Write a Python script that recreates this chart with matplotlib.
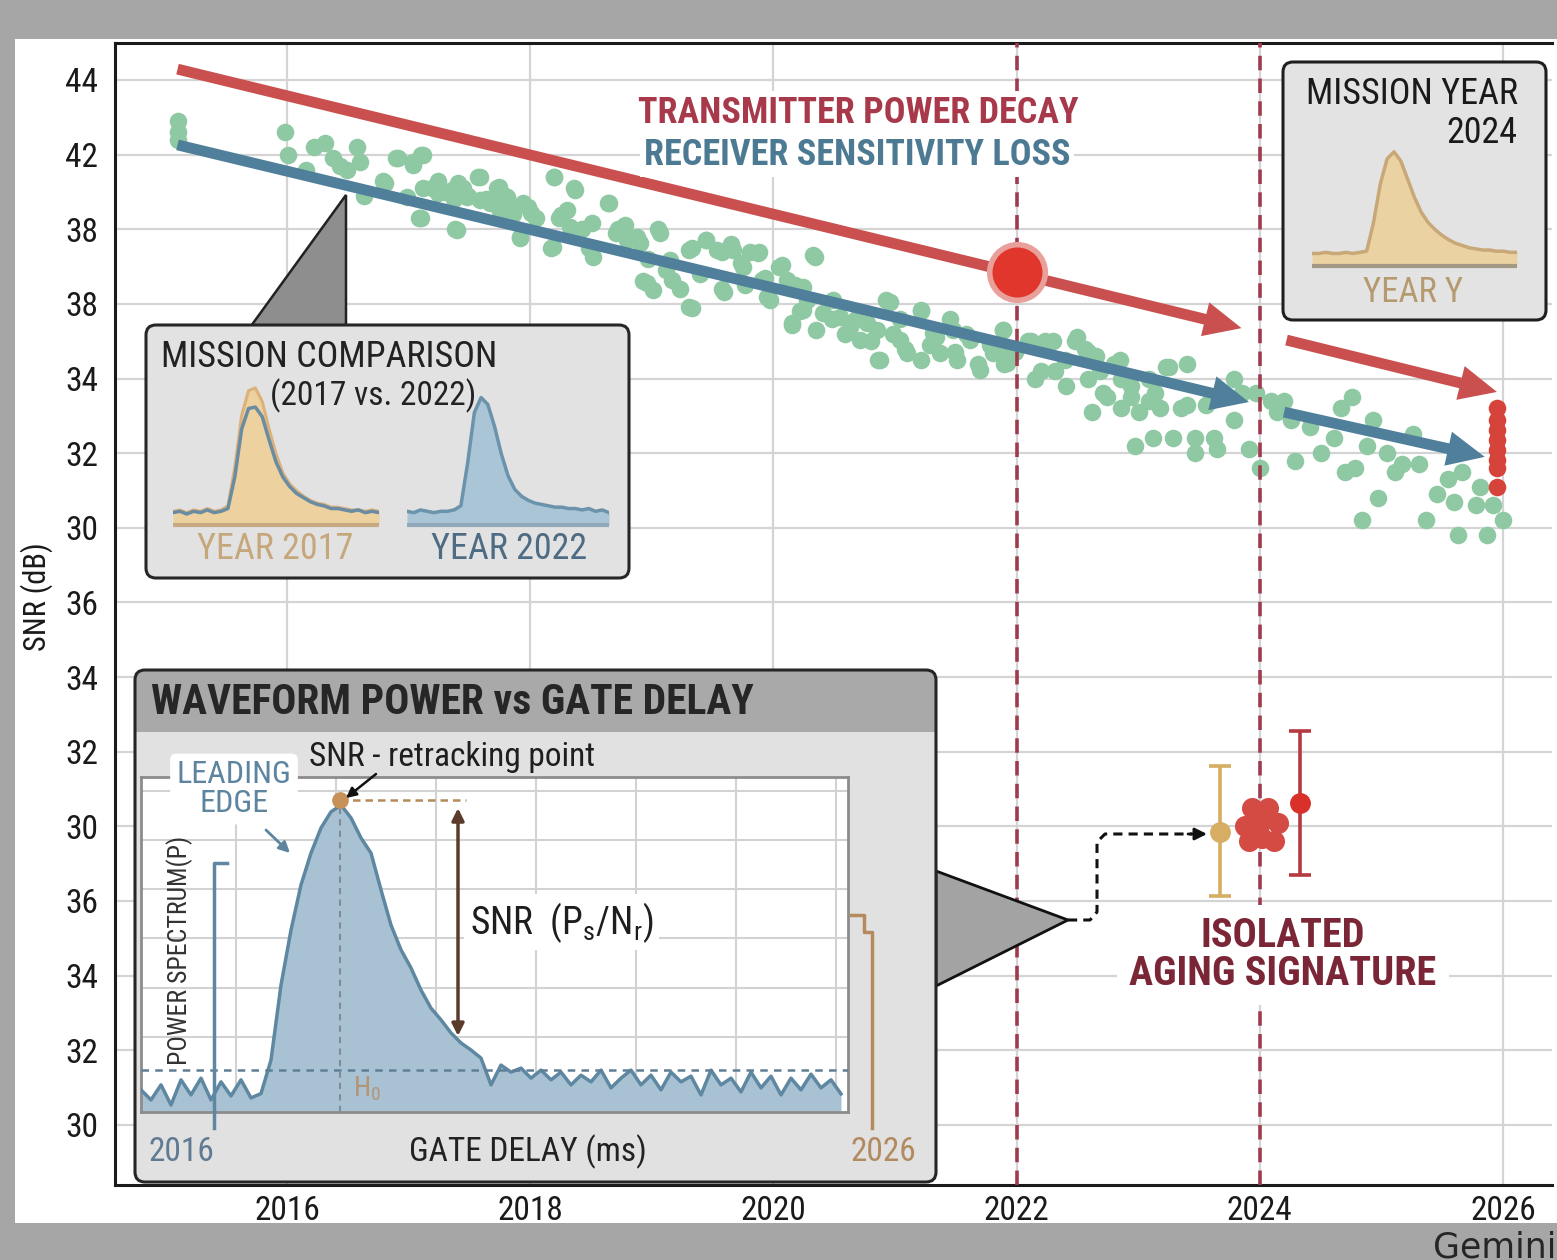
import matplotlib
matplotlib.use('Agg')
import matplotlib.pyplot as plt
from matplotlib import font_manager as fm
from matplotlib.patches import FancyBboxPatch, Polygon, Rectangle, FancyArrowPatch, ArrowStyle

W, H = 1557, 1260

# condensed font if one is installed, Roboto otherwise
installed = {f.name for f in fm.fontManager.ttflist}
COND = next((n for n in ['Roboto Condensed', 'Liberation Sans Narrow', 'Arial Narrow'] if n in installed), 'Roboto')
plt.rcParams['font.family'] = [COND, 'DejaVu Sans']
plt.rcParams['mathtext.fontset'] = 'custom'
plt.rcParams['mathtext.rm'] = COND

# ---------------- data ----------------
year_ticks = [2016, 2018, 2020, 2022, 2024, 2026]
snr_ticks = [44, 42, 40, 38, 36, 34, 32, 30, 28, 26, 24, 22, 20, 18, 16]
snr_labels = ['44', '42', '38', '38', '34', '32', '30', '36', '34', '32', '30', '36', '34', '32', '30']

scatter_year = [
    2015.10, 2015.10, 2015.10, 2015.98, 2016.01, 2016.16, 2016.22, 2016.31, 2016.38, 2016.44,
    2016.49, 2016.58, 2016.60, 2016.63, 2016.79, 2016.91, 2017.04, 2017.10, 2017.10, 2017.19,
    2017.29, 2017.38, 2017.45, 2017.57, 2017.64, 2017.73, 2017.79, 2017.86, 2017.92, 2017.98,
    2018.05, 2018.17, 2018.20, 2018.24, 2018.36, 2018.43, 2018.48, 2017.24, 2017.49, 2017.75,
    2017.37, 2017.12,
    2018.65, 2018.72, 2018.88, 2019.05, 2018.93, 2019.12, 2019.33, 2019.45, 2019.58, 2019.65,
    2019.73, 2019.81, 2019.88, 2019.93, 2020.05, 2019.33, 2019.58, 2020.18, 2020.33, 2020.28,
    2020.15, 2020.48, 2020.68, 2020.86, 2020.93, 2020.98, 2021.08, 2021.21, 2021.34, 2021.49,
    2021.58, 2021.68, 2021.89, 2021.99, 2022.09, 2022.20, 2022.30, 2022.40, 2022.50, 2022.59,
    2022.69, 2022.85, 2022.94, 2023.09, 2023.25, 2023.40, 2022.74, 2023.09, 2023.40, 2023.59,
    2023.85, 2024.09,
    2018.78, 2018.97, 2019.23, 2019.40, 2019.77, 2019.97, 2020.22, 2020.35, 2020.59, 2020.80,
    2021.04, 2021.29, 2021.45, 2021.78,
    2021.90, 2021.90, 2022.12, 2022.23, 2022.15, 2022.32, 2022.41, 2022.48, 2022.56, 2022.59,
    2022.62, 2022.65, 2022.71, 2022.80, 2022.86, 2022.86, 2022.94, 2022.97, 2023.01, 2023.12,
    2023.14, 2023.18, 2023.23, 2023.29, 2023.35, 2023.47, 2023.47, 2023.56, 2023.62, 2023.65,
    2023.79, 2023.79, 2023.91, 2023.97, 2024.00, 2024.14, 2024.20, 2024.26, 2024.29, 2024.41,
    2024.50, 2024.61, 2024.67, 2024.76, 2024.70, 2024.78, 2024.84, 2024.88, 2024.93, 2024.97,
    2025.05, 2025.11, 2025.17, 2025.26, 2025.31, 2025.37, 2025.46, 2025.55, 2025.60, 2025.63,
    2025.66, 2025.78, 2025.81, 2025.87, 2025.92, 2026.00,
    2016.90, 2017.04, 2017.12, 2016.81, 2016.99, 2017.09, 2017.22, 2017.24, 2017.36, 2017.41,
    2017.40, 2017.48, 2017.59, 2017.59, 2017.67, 2017.74, 2017.81, 2017.86, 2017.94, 2018.01,
    2017.92, 2018.20, 2018.25, 2018.30, 2018.37, 2018.33, 2018.51, 2018.52, 2018.19, 2018.64,
    2018.71, 2018.80, 2018.90, 2019.07, 2018.96, 2019.01, 2019.15, 2019.17, 2019.31, 2019.31,
    2019.45, 2019.54, 2019.67, 2019.75, 2019.87, 2019.59, 2019.91, 2019.95, 2020.07, 2020.11,
    2020.24, 2020.24, 2020.15, 2020.34, 2020.41, 2020.49, 2020.55, 2020.63, 2020.71, 2020.77,
    2020.85, 2020.88, 2020.96, 2021.04, 2021.10, 2021.21, 2021.21, 2021.31, 2021.37, 2021.48,
    2021.51, 2021.62, 2021.70, 2021.81, 2021.89, 2021.92]
scatter_snr = [
    42.9, 42.6, 42.4, 42.6, 42.0, 41.6, 42.2, 42.3, 41.9, 41.7,
    41.6, 42.2, 41.8, 40.9, 41.3, 41.9, 41.8, 42.0, 40.3, 41.1,
    41.0, 40.0, 41.1, 41.4, 40.8, 41.1, 40.9, 40.4, 39.8, 40.6,
    40.3, 39.5, 41.4, 40.3, 41.1, 40.0, 39.5, 41.3, 40.9, 40.5,
    40.8, 41.1,
    40.7, 40.0, 39.8, 40.0, 38.6, 38.9, 39.5, 39.7, 39.4, 39.6,
    39.1, 39.4, 39.4, 38.7, 39.0, 37.9, 38.4, 38.5, 39.3, 38.1,
    37.5, 37.6, 37.6, 36.5, 38.1, 37.2, 36.8, 37.8, 37.1, 36.7,
    37.2, 36.4, 37.3, 36.7, 37.0, 36.2, 37.0, 36.5, 37.1, 36.7,
    36.2, 36.5, 35.8, 36.0, 36.3, 36.4, 35.5, 35.4, 35.3, 35.4,
    35.6, 35.4,
    40.1, 39.2, 38.4, 38.8, 38.5, 38.1, 37.8, 37.3, 37.2, 37.0,
    37.6, 36.9, 37.6, 36.9,
    36.8, 36.4, 37.0, 37.0, 36.0, 36.2, 35.8, 37.0, 36.8, 36.0,
    35.1, 36.6, 35.6, 36.4, 36.0, 35.2, 35.5, 34.2, 35.1, 34.4,
    35.6, 35.2, 36.3, 34.4, 35.2, 34.4, 34.0, 35.3, 34.4, 34.1,
    36.0, 34.9, 34.1, 35.6, 33.6, 35.1, 35.4, 34.9, 33.8, 34.7,
    34.0, 34.4, 35.2, 35.5, 33.5, 33.6, 32.2, 34.2, 34.9, 32.8,
    34.0, 33.5, 33.7, 34.5, 33.7, 32.2, 32.9, 33.3, 32.7, 31.8,
    33.5, 32.6, 33.1, 31.8, 32.6, 32.2,
    41.91, 41.72, 41.99, 41.24, 40.86, 40.30, 41.13, 40.97, 41.05, 41.24,
    39.98, 40.86, 41.40, 40.78, 40.70, 41.13, 40.86, 40.52, 40.70, 40.44,
    39.77, 41.40, 40.38, 40.52, 41.05, 40.06, 40.17, 39.26, 39.53, 40.70,
    39.90, 39.71, 39.63, 39.90, 38.56, 38.37, 39.18, 38.64, 39.44, 37.92,
    39.71, 39.44, 39.44, 38.99, 39.36, 38.32, 38.64, 38.19, 39.04, 38.64,
    38.45, 37.84, 37.44, 39.26, 37.76, 38.11, 37.65, 37.38, 37.03, 37.49,
    37.30, 36.50, 38.05, 37.03, 36.68, 37.84, 36.50, 37.22, 36.68, 37.30,
    36.50, 37.03, 36.23, 36.68, 37.30, 36.42]

# trend arrows (start, end)
tx_years, tx_snr = [2015.10, 2023.85], [44.29, 37.35]
tx_years_2, tx_snr_2 = [2024.22, 2025.95], [37.03, 35.64]
rx_years, rx_snr = [2015.10, 2023.91], [42.26, 35.37]
rx_years_2, rx_snr_2 = [2024.20, 2025.85], [35.10, 33.90]

mission_marks = [2022, 2024]
highlight_year, highlight_snr = 2022, 38.86

end_cluster_year = [2025.95] * 8
end_cluster_snr = [35.21, 34.89, 34.62, 34.35, 34.09, 33.82, 33.60, 33.09]

# isolated aging signature
tan_year, tan_snr, tan_low, tan_high = 2023.67, 23.85, 22.14, 25.62
red_year, red_snr, red_low, red_high = 2024.33, 24.63, 22.70, 26.56
blob_year = [2023.88, 2023.94, 2024.07, 2024.15, 2024.02, 2023.91, 2024.12, 2024.00]
blob_snr = [24.0, 24.5, 24.5, 24.1, 23.7, 23.6, 23.6, 24.1]

# mini waveforms
mini_x = list(range(31))
mini_2017_tx = [10, 11, 9, 11, 10, 12, 10, 11, 14, 42, 80, 98, 100, 90, 70, 52, 38, 30, 25, 21,
                18, 16, 15, 13, 13, 12, 11, 11, 10, 11, 10]
mini_2017_rx = [9, 10, 8, 10, 9, 11, 9, 10, 12, 35, 70, 85, 86, 79, 62, 46, 35, 28, 23, 20,
                17, 15, 14, 12, 12, 11, 10, 11, 9, 10, 9]
mini_2022 = [10, 9, 11, 10, 9, 10, 10, 11, 14, 45, 82, 93, 88, 72, 52, 36, 26, 21, 18, 16,
             15, 14, 13, 13, 12, 12, 11, 12, 10, 11, 9]
mini_2024 = [11, 11, 12, 11, 11, 12, 11, 12, 13, 38, 72, 94, 100, 92, 76, 60, 47, 38, 32, 27,
             23, 20, 18, 16, 15, 14, 14, 13, 13, 12, 12]

# waveform power vs gate delay
gate_bins = list(range(71))
wave_power = [6.6, 3.6, 8.1, 2.1, 9.6, 5.1, 10.1, 3.6, 9.0, 4.8,
              9.6, 4.2, 5.5, 15.5, 37.9, 54.3, 67.8, 77.3, 84.8, 89.6,
              91.6, 87.8, 81.8, 77.3, 66.3, 55.8, 48.4, 43.0, 36.4, 31.0,
              27.5, 23.6, 20.6, 18.5, 16.1, 8.1, 14.0, 11.9, 13.1, 10.1,
              12.5, 9.6, 11.9, 8.1, 11.0, 9.0, 12.5, 7.2, 10.1, 12.5,
              8.1, 11.0, 6.6, 11.9, 9.0, 10.7, 5.1, 12.5, 8.1, 10.1,
              6.0, 11.9, 7.2, 10.7, 5.1, 10.1, 6.6, 11.3, 7.2, 9.6,
              5.4]
peak_gate, peak_power = 19.9, 93.1
noise_level = 12.5
snr_arrow_gate, snr_arrow_top, snr_arrow_bottom = 31.7, 90.7, 22.7

# colours
RED = '#c9504e'
BLUE = '#4f7f9b'
GREEN = '#8fc9a3'
MAROON = '#9e3b4d'
TAN = '#c6a77c'
BOX = '#e2e2e2'


def px_rect(x0, y0, x1, y1):
    return [x0 / W, 1 - y1 / H, (x1 - x0) / W, (y1 - y0) / H]


fig = plt.figure(figsize=(W / 100, H / 100), dpi=100, facecolor='#a6a6a6')
fig.add_artist(Rectangle((15 / W, 1 - 1223 / H), 1 - 15 / W, (1223 - 39) / H,
                         transform=fig.transFigure, fc='white', ec='none', zorder=0))

# ================= main axes =================
ax = fig.add_axes(px_rect(115, 43, 1552, 1185), zorder=1)
ax.set_xlim(2014.586, 2026.403)
ax.set_ylim(14.39, 44.99)
ax.set_xticks(year_ticks)
ax.set_xticklabels([str(y) for y in year_ticks])
ax.set_yticks(snr_ticks)
ax.set_yticklabels(snr_labels)
ax.tick_params(axis='both', length=0, labelsize=24, colors='#1a1a1a')
ax.tick_params(axis='x', pad=7)
ax.tick_params(axis='y', pad=12)
ax.grid(True, color='#d4d4d4', lw=1.6)
ax.set_axisbelow(True)
for side in ['left', 'bottom', 'top']:
    ax.spines[side].set_linewidth(2.2)
    ax.spines[side].set_color('#1a1a1a')
ax.spines['right'].set_visible(False)
ax.set_ylabel('SNR (dB)', fontsize=22, color='#1a1a1a')
ax.yaxis.set_label_coords(-0.043, 0.515)

ax.scatter(scatter_year, scatter_snr, s=160, color=GREEN, lw=0, zorder=3)

for yr in mission_marks:
    ax.axvline(yr, color=MAROON, lw=2.6, ls=(0, (4, 2.3)), zorder=4)


def trend_arrow(xs, ys, color):
    arr = FancyArrowPatch((xs[0], ys[0]), (xs[1], ys[1]),
                          arrowstyle=ArrowStyle.Simple(head_length=27, head_width=25, tail_width=7.8),
                          mutation_scale=1, color=color, lw=0, zorder=5, shrinkA=0, shrinkB=0)
    ax.add_patch(arr)


trend_arrow(tx_years, tx_snr, RED)
trend_arrow(tx_years_2, tx_snr_2, RED)
trend_arrow(rx_years, rx_snr, BLUE)
trend_arrow(rx_years_2, rx_snr_2, BLUE)

ax.plot(highlight_year, highlight_snr, 'o', ms=40, mfc='#e0362b', mec='#eaa09a', mew=4, zorder=7)
ax.scatter(end_cluster_year, end_cluster_snr, s=160, color='#d5433b', lw=0, zorder=6)

ax.errorbar(tan_year, tan_snr, yerr=[[tan_snr - tan_low], [tan_high - tan_snr]], fmt='o', ms=14,
            color='#d6ad62', ecolor='#d6ad62', elinewidth=2.6, capsize=8, capthick=2.6, zorder=6)
ax.scatter(blob_year, blob_snr, s=230, color='#d34b43', lw=0, zorder=6)
ax.errorbar(red_year, red_snr, yerr=[[red_snr - red_low], [red_high - red_snr]], fmt='o', ms=14,
            color='#d9302a', ecolor='#b53a3f', elinewidth=2.6, capsize=8, capthick=2.6, zorder=6)

ax.text(2020.70, 43.12, 'TRANSMITTER POWER DECAY', color='#a8394a', fontsize=26, fontweight='bold',
        ha='center', va='center', zorder=8,
        bbox=dict(boxstyle='square,pad=0.1', fc='white', ec='none'))
ax.text(2020.69, 41.99, 'RECEIVER SENSITIVITY LOSS', color='#4d7a93', fontsize=26, fontweight='bold',
        ha='center', va='center', zorder=8,
        bbox=dict(boxstyle='square,pad=0.1', fc='white', ec='none'))
ax.text(2024.19, 20.55, 'ISOLATED\nAGING SIGNATURE', color='#7a2636', fontsize=29, fontweight='bold',
        ha='center', va='center', linespacing=1.0, zorder=8,
        bbox=dict(boxstyle='square,pad=0.3', fc='white', ec='none'))

# ================= decoration layer (pixel units) =================
deco = fig.add_axes([0, 0, 1, 1], zorder=5, label='deco')
deco.set_xlim(0, W)
deco.set_ylim(H, 0)
deco.axis('off')


def rbox(a, x0, y0, x1, y1, fc, ec='#262626', lw=2.2, r=10, z=2):
    p = FancyBboxPatch((x0, y0), x1 - x0, y1 - y0, boxstyle=f'round,pad=0,rounding_size={r}',
                       fc=fc, ec=ec, lw=lw, zorder=z)
    a.add_patch(p)
    return p


# mission comparison callout
deco.add_patch(Polygon([(251, 326), (346, 195), (346, 326)], closed=True, fc='#8e8e8e', ec='#222', lw=1.8, zorder=1))
rbox(deco, 146, 325, 629, 578, BOX)
deco.text(161, 357, 'MISSION COMPARISON', fontsize=26, color='#222', va='center', zorder=3)
deco.text(373, 396, '(2017 vs. 2022)', fontsize=24, color='#222', ha='center', va='center', zorder=3)
deco.text(275, 549, 'YEAR 2017', fontsize=26, color=TAN, ha='center', va='center', zorder=3)
deco.text(509, 549, 'YEAR 2022', fontsize=26, color='#4e6b84', ha='center', va='center', zorder=3)

# mission year box
rbox(deco, 1283, 62, 1546, 320, '#e3e3e3', ec='#1f1f1f')
deco.text(1518, 94, 'MISSION YEAR', fontsize=26, color='#1a1a1a', ha='right', va='center', zorder=3)
deco.text(1518, 133, '2024', fontsize=26, color='#1a1a1a', ha='right', va='center', zorder=3)
deco.text(1413, 292, 'YEAR Y', fontsize=25, color='#b59a70', ha='center', va='center', zorder=3)

# waveform box with header band
body = rbox(deco, 135, 670, 936, 1182, '#e1e1e1', ec='none', z=2)
header = Rectangle((135, 670), 801, 62, fc='#a9a9a9', ec='none', zorder=2.1)
header.set_clip_path(body)
deco.add_patch(header)
rbox(deco, 135, 670, 936, 1182, 'none', ec='#262626', z=2.2)
deco.text(151, 702, 'WAVEFORM POWER vs GATE DELAY', fontsize=30, fontweight='bold', color='#262626',
          va='center', zorder=3)
deco.text(149, 1152, '2016', fontsize=24, color='#5f7a92', ha='left', va='center', zorder=3)
deco.text(528, 1152, 'GATE DELAY (ms)', fontsize=24, color='#222', ha='center', va='center', zorder=3)
deco.text(916, 1152, '2026', fontsize=24, color='#b38a60', ha='right', va='center', zorder=3)

# callout to isolated signature
deco.add_patch(Polygon([(936, 871), (1068, 920), (936, 986)], closed=True, fc='#a3a3a3', ec='#111', lw=2, zorder=1))
deco.plot([1068, 1090, 1097, 1097, 1105, 1192], [920, 920, 912, 842, 834, 834],
          color='#111', lw=2.2, ls=(0, (3, 2)), zorder=3)
deco.annotate('', xy=(1207, 834), xytext=(1188, 834),
              arrowprops=dict(arrowstyle='-|>', color='#111', lw=2, mutation_scale=18, shrinkA=0, shrinkB=0))


# ================= mini waveform insets =================
def mini_axes(x0, y0, x1, y1, ylim):
    a = fig.add_axes(px_rect(x0, y0, x1, y1), zorder=6)
    a.set_xlim(0, 30)
    a.set_ylim(*ylim)
    a.axis('off')
    return a


m17 = mini_axes(173, 380, 379, 528, (-2.2, 105.8))
m17.fill_between(mini_x, 0, mini_2017_tx, color='#edd19f', lw=0)
m17.plot(mini_x, mini_2017_tx, color='#dcb27a', lw=2.2)
m17.plot(mini_x, mini_2017_rx, color='#6a8ca2', lw=2.5)
m17.axhline(0, color='#c7aa82', lw=3)

m22 = mini_axes(407, 380, 609, 528, (-2.2, 105.8))
m22.fill_between(mini_x, 0, mini_2022, color='#a9c5d6', lw=0)
m22.plot(mini_x, mini_2022, color='#6b93ab', lw=2.5)
m22.axhline(0, color='#8fa9bb', lw=3)

m24 = mini_axes(1312, 145, 1517, 269, (-2.6, 106))
m24.fill_between(mini_x, 0, mini_2024, color='#ebd2a3', lw=0)
m24.plot(mini_x, mini_2024, color='#c9a877', lw=2.5)
m24.axhline(0, color='#a39883', lw=3)

# ================= waveform plot =================
wf = fig.add_axes(px_rect(141, 777, 848, 1112), zorder=6)
wf.set_xlim(0, 70.7)
wf.set_ylim(0, 100)
wf.set_xticks([9.5, 19.5, 29.5, 39.5, 49.5, 59.5, 69.5])
wf.set_yticks([22.4, 37.1, 51.8, 66.5, 81.2, 95.9])
wf.tick_params(length=0, labelbottom=False, labelleft=False)
wf.grid(True, color='#d2d2d2', lw=1.5)
wf.set_axisbelow(True)
for s in wf.spines.values():
    s.set_color('#8c8c8c')
    s.set_linewidth(2)
wf.fill_between(gate_bins, 0, wave_power, color='#a9c2d3', lw=0, zorder=2)
wf.plot(gate_bins, wave_power, color='#5e87a1', lw=2.5, zorder=3)
wf.axhline(noise_level, color='#5f7f96', lw=1.8, ls=(0, (3, 2.5)), zorder=4)
wf.plot([peak_gate, peak_gate], [0, peak_power], color='#7f8c97', lw=1.5, ls=(0, (3, 2.5)), zorder=4)
wf.plot([peak_gate, 32.5], [peak_power, peak_power], color='#b58a5a', lw=1.8, ls=(0, (3, 2)), zorder=4)
wf.plot(peak_gate, peak_power, 'o', ms=11, color='#c8915a', zorder=6)
wf.annotate('', xy=(snr_arrow_gate, snr_arrow_bottom), xytext=(snr_arrow_gate, snr_arrow_top),
            arrowprops=dict(arrowstyle='<|-|>', color='#5b3b2b', lw=2.5, mutation_scale=18,
                            shrinkA=0, shrinkB=0), zorder=5)
wf.text(32.9, 56.7, r'SNR  ($\mathregular{P_s/N_r}$)', fontsize=27, color='#1e1e1e', va='center',
        zorder=6, bbox=dict(boxstyle='square,pad=0.15', fc='white', ec='none'))
wf.text(21.2, 7.0, r'$\mathregular{H_0}$', fontsize=20, color='#b39573', va='center', zorder=6)

# ================= top overlay =================
top = fig.add_axes([0, 0, 1, 1], zorder=7, label='top')
top.set_xlim(0, W)
top.set_ylim(H, 0)
top.axis('off')
top.text(234, 789, 'LEADING\nEDGE', fontsize=23, color='#5d85a0', ha='center', va='center',
         linespacing=1.0, bbox=dict(boxstyle='round,pad=0.2', fc='white', ec='none'))
top.annotate('', xy=(290, 853), xytext=(266, 830),
             arrowprops=dict(arrowstyle='-|>', color='#5d85a0', lw=2, mutation_scale=16, shrinkA=0, shrinkB=0))
top.text(309, 757, 'SNR - retracking point', fontsize=24, color='#1e1e1e', va='center')
top.annotate('', xy=(346, 798), xytext=(376, 774),
             arrowprops=dict(arrowstyle='-|>', color='#111', lw=1.8, mutation_scale=15, shrinkA=0, shrinkB=0))
top.text(180, 950, 'POWER SPECTRUM(P)', fontsize=18.5, color='#333', rotation=90, ha='center', va='center')
top.plot([227, 214, 214], [863, 863, 1128], color='#5f87a0', lw=2.5)
top.plot([851, 864, 864, 872, 872], [915, 915, 932, 932, 1128], color='#b58a5e', lw=2.5)

fig.text(1433 / W, 2 / H, 'Gemini', fontsize=25, family='DejaVu Sans', color='#262626', va='baseline')

fig.savefig('out.png', dpi=100, facecolor=fig.get_facecolor())
